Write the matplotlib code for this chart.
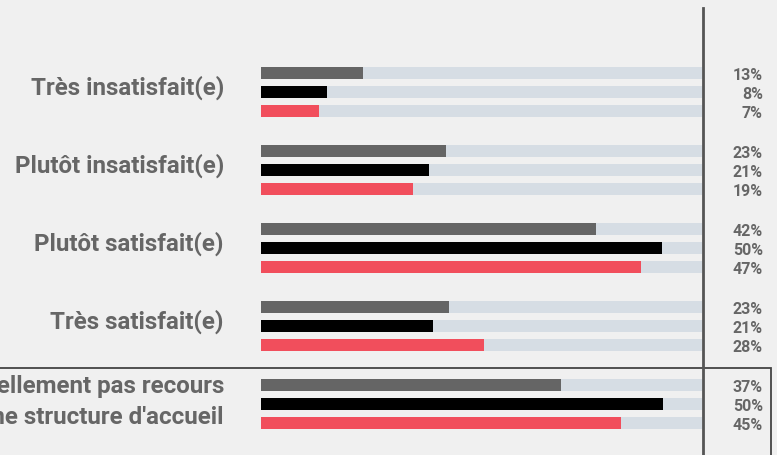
import matplotlib.pyplot as plt
import matplotlib.patches as patches
import numpy as np

plt.rcParams['font.family'] = ['Roboto', 'DejaVu Sans']

# Data
categories = ["Très insatisfait(e)", "Plutôt insatisfait(e)", "Plutôt satisfait(e)",
              "Très satisfait(e)", "N'a actuellement pas recours\nà une structure d'accueil"]
serie_gris = [12.7, 23.1, 41.8, 23.4, 37.4]
serie_noir = [8.2, 21.0, 50.0, 21.4, 50.1]
serie_rouge = [7.2, 19.0, 47.4, 27.8, 44.9]
track_max = 55

colors = ["#656565", "#000000", "#f14e5c"]
bg = "#f0f0f0"

fig = plt.figure(figsize=(7.77, 4.55), dpi=100, facecolor=bg)
ax = fig.add_axes([261 / 777, 0, 441 / 777, 1])
ax.set_facecolor(bg)

y = np.arange(len(categories))
offsets = [-0.244, 0, 0.244]
h = 0.145

for series, off, c in zip([serie_gris, serie_noir, serie_rouge], offsets, colors):
    ax.barh(y + off, [track_max] * len(y), height=h, color="#d6dde4", zorder=1)
    ax.barh(y + off, series, height=h, color=c, zorder=2)
    for yi, v in zip(y, series):
        ax.text(1.138, yi + off + 0.03, f"{v:.0f}%", transform=ax.get_yaxis_transform(),
                ha="right", va="center", fontsize=11.5, fontweight="bold", color="#666666")

for yi, lab in zip(y, categories):
    dy = -0.05 if "\n" not in lab else -0.02
    ax.text(-0.084, yi + dy, lab, transform=ax.get_yaxis_transform(),
            ha="right", va="center", fontsize=17.4, fontweight="bold", color="#666666",
            linespacing=1.45)

ax.set_xlim(0, track_max)
ax.set_ylim(4 + 51 / 78, -92 / 78)
ax.axis("off")

# vertical separator
fig.add_artist(plt.Line2D([703 / 777, 703 / 777], [0, 1 - 8 / 455],
                          color="#555555", lw=2, transform=fig.transFigure))
# box around last category
fig.add_artist(patches.Rectangle((-5 / 777, -10 / 455), 776 / 777, (455 - 368 + 10) / 455,
                                 fill=False, edgecolor="#444444", lw=1.3,
                                 transform=fig.transFigure))

plt.savefig("out.png", dpi=100, facecolor=bg)
